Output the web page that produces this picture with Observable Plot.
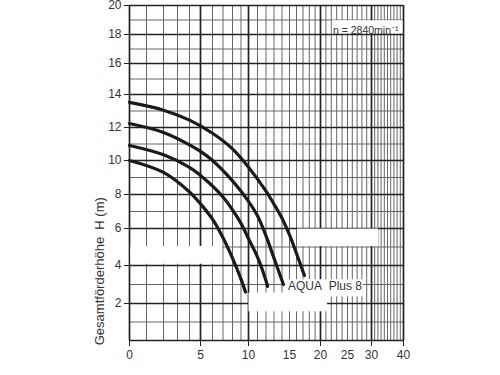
<!DOCTYPE html>
<html><head><meta charset="utf-8">
<script src="https://cdn.jsdelivr.net/npm/d3@7"></script>
<script src="https://cdn.jsdelivr.net/npm/@observablehq/plot@0.6"></script>
<style>body{margin:0;background:#fff;} svg{display:block;}</style>
</head><body><div id="chart"></div>
<script>
// ---- axis ticks ----
const flowTickLabels = [0, 5, 10, 15, 20, 25, 30, 40];
const flowTickMarks = [0, 5, 10, 20, 30, 40];
const flowMajorGrid = [0, 5, 10, 20, 30, 40];
const flowMinorGrid = d3.range(0, 41, 1);
const headTickLabels = [2, 4, 6, 8, 10, 12, 14, 16, 18, 20];
const headMajorGrid = d3.range(0, 21, 2);
const headMinorGrid = d3.range(1, 20, 2);

// ---- pump curves (Q in m³/h, H in m) ----
const curve1Q = [0, 2, 4, 6, 8, 10, 12, 13, 14, 15, 16, 17.23];
const curve1H = [13.52, 13.05, 12.45, 11.65, 10.7, 9.6, 8.2, 7.43, 6.6, 5.65, 4.65, 3.47];
const curve2Q = [0, 2, 4, 5, 6, 8, 10, 11, 12, 13, 14.19];
const curve2H = [12.24, 11.7, 10.95, 10.55, 10.0, 8.8, 7.6, 6.75, 5.6, 4.4, 3.0];
const curve3Q = [0, 2, 4, 5, 6, 7, 8, 9, 10, 11, 12, 12.2];
const curve3H = [10.91, 10.35, 9.6, 9.12, 8.5, 7.85, 7.1, 6.3, 5.45, 4.45, 3.2, 2.9];
const curve4Q = [0, 2, 4, 5, 6, 7, 8, 9, 9.6];
const curve4H = [10.0, 9.3, 8.15, 7.45, 6.55, 5.5, 4.4, 3.28, 2.6];

// ---- blanked areas of the sheet (Q1,Q2,H1,H2) ----
const blankQ1 = [0.08, 16.15, 14.5, 10.05, 22.2];
const blankQ2 = [6.95, 32.2, 28.3, 21.3, 39.8];
const blankH1 = [4.07, 5.02, 2.35, 1.55, 18.05];
const blankH2 = [5.03, 5.97, 3.25, 2.55, 18.95];

const curveSets = [[curve1Q, curve1H], [curve2Q, curve2H], [curve3Q, curve3H], [curve4Q, curve4H]];
const curves = curveSets.map(([q, h], i) => q.map((v, j) => ({curve: i, q: v, h: h[j]})));
const blanks = blankQ1.map((q1, i) => ({q1, q2: blankQ2[i], h1: blankH1[i], h2: blankH2[i]}));

const chart = Plot.plot({
  width: 500,
  height: 375,
  marginLeft: 129,
  marginRight: 97,
  marginTop: 5,
  marginBottom: 35,
  style: {fontFamily: "Arial, 'Liberation Sans', sans-serif", fontSize: "12px", color: "#333", background: "#fff"},
  x: {type: "linear",
      domain: [0, 1, 2, 3, 4, 5, 6, 7, 8, 9, 10, 11, 12, 13, 14, 15, 16, 17, 18, 19, 20, 25, 30, 40],
      range: [129, 146, 163, 177, 189, 200, 212, 222.5, 232, 240.5, 248, 257, 265.5, 273.5, 281.5, 289, 296, 302.5, 308.8, 314.6, 320, 347, 371, 403]},
  y: {type: "linear", domain: [0, 2, 4, 6, 8, 10, 12, 14, 16, 18, 20],
      range: [340, 303, 265, 228, 194, 160, 127, 94, 63, 34, 5]},
  marks: [
    Plot.ruleX(flowMinorGrid, {x: d => d, y1: 0, y2: 20, stroke: "#666", strokeWidth: 1}),
    Plot.ruleY(headMinorGrid, {y: d => d, x1: 0, x2: 40, stroke: "#666", strokeWidth: 1}),
    Plot.ruleX(flowMajorGrid, {x: d => d, y1: 0, y2: 20, stroke: "#222", strokeWidth: 1.7}),
    Plot.ruleY(headMajorGrid, {y: d => d, x1: 0, x2: 40, stroke: "#222", strokeWidth: 1.7}),
    Plot.rect(blanks, {x1: "q1", x2: "q2", y1: "h1", y2: "h2", fill: "#fff"}),
    ...curves.map(c => Plot.line(c, {x: "q", y: "h", curve: "catmull-rom", stroke: "#1a1a1a", strokeWidth: 3.2})),
    Plot.axisY(headTickLabels, {tickSize: 5, tickPadding: 3, stroke: "#222", label: null}),
    Plot.axisX(flowTickMarks, {tickSize: 6, text: null, stroke: "#222", label: null}),
    Plot.axisX(flowTickLabels, {tickSize: 0, tickPadding: 10, label: null}),
    Plot.text(["Gesamtförderhöhe\u00a0\u00a0H (m)"], {frameAnchor: "left", y: () => 3.7, dx: -30, rotate: -90, textAnchor: "middle", fontSize: 13, fill: "#333"}),
    Plot.text(["n = 2840min⁻¹"], {frameAnchor: "top-right", dx: -5, dy: 21, textAnchor: "end", fontSize: 10.5, fill: "#333"}),
    Plot.text(["AQUA\u00a0\u00a0Plus 8"], {x: () => 14.8, y: () => 2.9, textAnchor: "start", fontSize: 12, fill: "#333"})
  ]
});
document.getElementById("chart").appendChild(chart);
</script>
</body></html>
